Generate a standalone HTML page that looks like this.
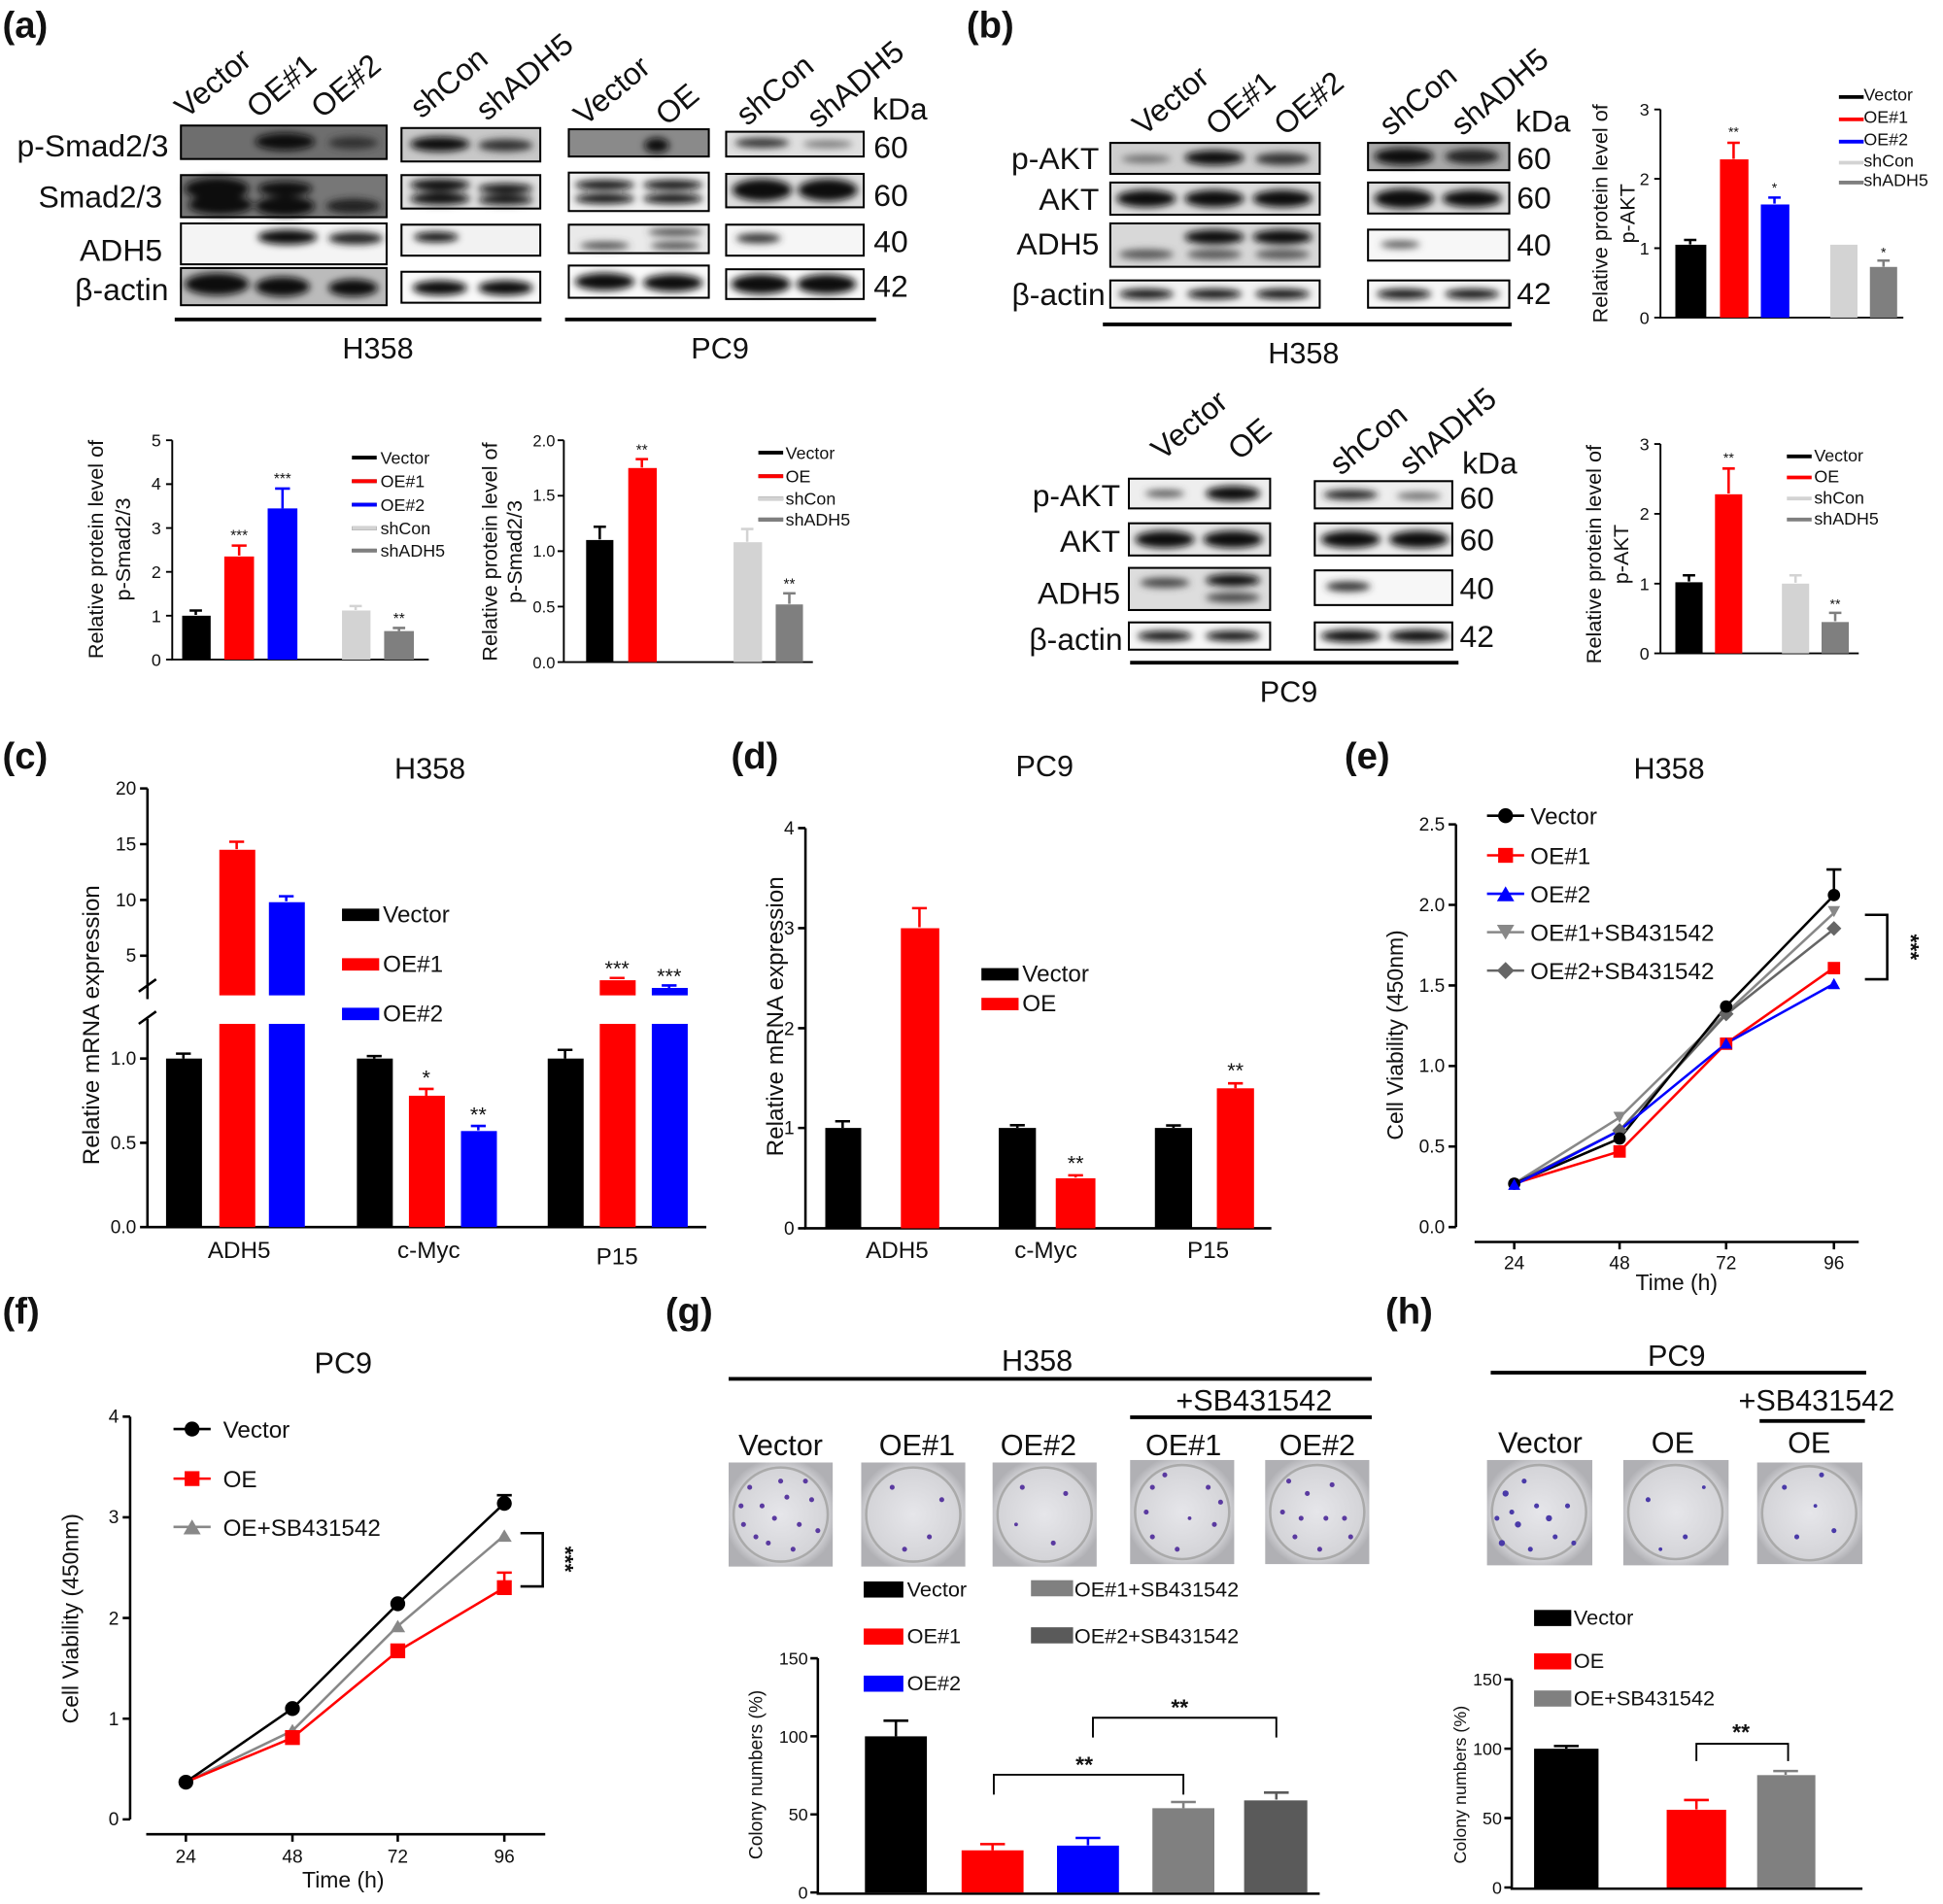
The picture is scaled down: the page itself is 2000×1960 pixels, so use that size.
<!DOCTYPE html>
<html><head><meta charset="utf-8"><style>
html,body{margin:0;padding:0;background:#fff}
svg{display:block}
text{font-family:"Liberation Sans",Arial,sans-serif;fill:#111}
</style></head><body>
<svg width="2000" height="1960" viewBox="0 0 1568 1536" xmlns="http://www.w3.org/2000/svg">
<defs>
<filter id="bl" x="-30%" y="-80%" width="160%" height="260%"><feGaussianBlur stdDeviation="3"/></filter>
<radialGradient id="pl" cx="50%" cy="50%" r="55%"><stop offset="0" stop-color="#e6e6ea"/><stop offset="0.8" stop-color="#d4d4d8"/><stop offset="1" stop-color="#b0b0b4"/></radialGradient>
</defs>
<rect width="1568" height="1536" fill="#fff"/>

<!-- ===== (a) ===== -->
<text x="2" y="30" font-size="30" font-weight="bold">(a)</text>
<g font-size="25">
<text transform="translate(150,96) rotate(-40)">Vector</text>
<text transform="translate(208,96) rotate(-40)">OE#1</text>
<text transform="translate(260,96) rotate(-40)">OE#2</text>
<text transform="translate(340,96) rotate(-40)">shCon</text>
<text transform="translate(393,98) rotate(-40)">shADH5</text>
<text transform="translate(472,102) rotate(-40)">Vector</text>
<text transform="translate(538,102) rotate(-40)">OE</text>
<text transform="translate(603,102) rotate(-40)">shCon</text>
<text transform="translate(660,104) rotate(-40)">shADH5</text>
<text x="704" y="96">kDa</text>
<text x="705" y="127">60</text><text x="705" y="166">60</text><text x="705" y="203">40</text><text x="705" y="239">42</text>
<g text-anchor="end"><text x="136" y="126">p-Smad2/3</text><text x="131" y="167">Smad2/3</text><text x="131" y="210">ADH5</text><text x="136" y="242">β-actin</text></g>
</g>
<g stroke="#000" stroke-width="1.6">
<rect x="146" y="101" width="166" height="27" fill="#6e6e6e"/>
<rect x="146" y="141" width="166" height="34" fill="#777"/>
<rect x="146" y="180" width="166" height="33" fill="#f4f4f4"/>
<rect x="146" y="216" width="166" height="30" fill="#bbb"/>
<rect x="324" y="103" width="112" height="27" fill="#c8c8c8"/>
<rect x="324" y="141" width="112" height="27" fill="#e0e0e0"/>
<rect x="324" y="181" width="112" height="25" fill="#f2f2f2"/>
<rect x="324" y="219" width="112" height="25" fill="#fafafa"/>
<rect x="459" y="104" width="113" height="22" fill="#8a8a8a"/>
<rect x="459" y="139" width="113" height="31" fill="#f0f0f0"/>
<rect x="459" y="181" width="113" height="23" fill="#eaeaea"/>
<rect x="459" y="214" width="113" height="26" fill="#fafafa"/>
<rect x="586" y="106" width="111" height="20" fill="#e0e0e0"/>
<rect x="586" y="140" width="111" height="27" fill="#ddd"/>
<rect x="586" y="181" width="111" height="25" fill="#f6f6f6"/>
<rect x="586" y="217" width="111" height="24" fill="#fafafa"/>
</g>
<g fill="#111" filter="url(#bl)">
<ellipse cx="230" cy="114" rx="24" ry="7"/><ellipse cx="285" cy="115" rx="20" ry="5" fill="#333"/>
<ellipse cx="175" cy="152" rx="26" ry="9"/><ellipse cx="178" cy="165" rx="26" ry="8"/><ellipse cx="230" cy="152" rx="22" ry="6"/><ellipse cx="230" cy="166" rx="24" ry="8"/><ellipse cx="285" cy="166" rx="22" ry="6" fill="#222"/>
<ellipse cx="232" cy="191" rx="24" ry="6"/><ellipse cx="287" cy="192" rx="22" ry="5" fill="#222"/>
<ellipse cx="175" cy="229" rx="26" ry="9"/><ellipse cx="228" cy="231" rx="22" ry="8"/><ellipse cx="285" cy="232" rx="20" ry="7"/>
<ellipse cx="355" cy="116" rx="24" ry="6"/><ellipse cx="408" cy="117" rx="22" ry="5" fill="#333"/>
<ellipse cx="355" cy="149" rx="24" ry="5"/><ellipse cx="355" cy="160" rx="24" ry="5"/><ellipse cx="408" cy="152" rx="22" ry="4"/><ellipse cx="408" cy="161" rx="22" ry="4"/>
<ellipse cx="352" cy="191" rx="18" ry="4"/>
<ellipse cx="355" cy="232" rx="22" ry="6"/><ellipse cx="408" cy="232" rx="22" ry="6"/>
<ellipse cx="530" cy="117" rx="10" ry="6"/>
<ellipse cx="488" cy="149" rx="24" ry="4"/><ellipse cx="488" cy="160" rx="24" ry="4"/><ellipse cx="543" cy="149" rx="24" ry="4"/><ellipse cx="543" cy="160" rx="24" ry="4"/>
<ellipse cx="545" cy="187" rx="22" ry="3" fill="#444"/><ellipse cx="488" cy="198" rx="20" ry="3" fill="#444"/><ellipse cx="545" cy="198" rx="20" ry="3" fill="#444"/>
<ellipse cx="488" cy="227" rx="24" ry="7"/><ellipse cx="543" cy="228" rx="24" ry="7"/>
<ellipse cx="615" cy="115" rx="22" ry="4" fill="#333"/><ellipse cx="668" cy="116" rx="20" ry="3" fill="#777"/>
<ellipse cx="615" cy="153" rx="24" ry="9"/><ellipse cx="668" cy="153" rx="24" ry="9"/>
<ellipse cx="612" cy="192" rx="18" ry="4" fill="#333"/>
<ellipse cx="614" cy="229" rx="24" ry="8"/><ellipse cx="667" cy="229" rx="24" ry="8"/>
</g>
<rect x="141" y="256" width="296" height="3"/><rect x="456" y="256" width="251" height="3"/>
<text x="305" y="289" font-size="24" text-anchor="middle">H358</text>
<text x="581" y="289" font-size="24" text-anchor="middle">PC9</text>

<!-- (a) chart 1 -->
<g font-size="14">
<g stroke="#000" stroke-width="1.5" fill="none"><path d="M139,355 V532 H346"/>
<path d="M134,355h5M134,390.4h5M134,425.8h5M134,461.2h5M134,496.6h5M134,532h5"/></g>
<g text-anchor="end"><text x="130" y="360">5</text><text x="130" y="395">4</text><text x="130" y="431">3</text><text x="130" y="466">2</text><text x="130" y="502">1</text><text x="130" y="537">0</text></g>
<rect x="147" y="496.6" width="23" height="35.4" fill="#000"/>
<rect x="181" y="448.8" width="24" height="83.2" fill="#f00"/>
<rect x="216" y="410" width="24" height="122" fill="#00f"/>
<rect x="276" y="492.4" width="23" height="39.6" fill="#d3d3d3"/>
<rect x="310" y="509" width="24" height="23" fill="#7f7f7f"/>
<g stroke-width="2" fill="none"><path d="M158,496 V492.4 M153,492.4h10" stroke="#000"/><path d="M193,448 V440 M187,440h12" stroke="#f00"/><path d="M228,410 V394 M222,394h12" stroke="#00f"/><path d="M287,492 V488.8 M282,488.8h10" stroke="#d3d3d3"/><path d="M322,509 V506.5 M317,506.5h10" stroke="#7f7f7f"/></g>
<g font-size="12" text-anchor="middle"><text x="193" y="436">***</text><text x="228" y="390">***</text><text x="322" y="503">**</text></g>
<g transform="translate(83,443) rotate(-90)" text-anchor="middle" font-size="17"><text>Relative protein level of</text><text y="22">p-Smad2/3</text></g>
<g font-size="14"><path d="M284,369h20M284,388h20M284,407h20M284,426h20M284,444h20" stroke-width="3" fill="none" stroke="#000"/>
<path d="M284,388h20" stroke="#f00" stroke-width="3"/><path d="M284,407h20" stroke="#00f" stroke-width="3"/><path d="M284,426h20" stroke="#d3d3d3" stroke-width="3"/><path d="M284,444h20" stroke="#7f7f7f" stroke-width="3"/>
<text x="307" y="374">Vector</text><text x="307" y="393">OE#1</text><text x="307" y="412">OE#2</text><text x="307" y="431">shCon</text><text x="307" y="449">shADH5</text></g>
</g>

<!-- (a) chart 2 -->
<g font-size="13">
<g stroke="#000" stroke-width="1.5" fill="none"><path d="M455,355 V534 H656"/>
<path d="M450,355h5M450,399.75h5M450,444.5h5M450,489.25h5M450,534h5"/></g>
<g text-anchor="end"><text x="448" y="360">2.0</text><text x="448" y="404">1.5</text><text x="448" y="449">1.0</text><text x="448" y="494">0.5</text><text x="448" y="539">0.0</text></g>
<rect x="473" y="435.5" width="22" height="98.5" fill="#000"/>
<rect x="507" y="377.4" width="23" height="156.6" fill="#f00"/>
<rect x="592" y="437.3" width="23" height="96.7" fill="#d3d3d3"/>
<rect x="626" y="487.5" width="22" height="46.5" fill="#7f7f7f"/>
<g stroke-width="2" fill="none"><path d="M484,435 V424.8 M479,424.8h10" stroke="#000"/><path d="M518,377 V370.2 M513,370.2h10" stroke="#f00"/><path d="M603,437 V426.6 M598,426.6h10" stroke="#d3d3d3"/><path d="M637,487 V478.5 M632,478.5h10" stroke="#7f7f7f"/></g>
<g font-size="12" text-anchor="middle"><text x="518" y="367">**</text><text x="637" y="475">**</text></g>
<g transform="translate(401,445) rotate(-90)" text-anchor="middle" font-size="17"><text>Relative protein level of</text><text y="20">p-Smad2/3</text></g>
<g font-size="14">
<path d="M612,365h20M612,384h20M612,402h20M612,419h20" stroke="#000" stroke-width="3"/>
<path d="M612,384h20" stroke="#f00" stroke-width="3"/><path d="M612,402h20" stroke="#d3d3d3" stroke-width="3"/><path d="M612,419h20" stroke="#7f7f7f" stroke-width="3"/>
<text x="634" y="370">Vector</text><text x="634" y="389">OE</text><text x="634" y="407">shCon</text><text x="634" y="424">shADH5</text>
</g>
</g>

<!-- ===== (b) ===== -->
<text x="780" y="30" font-size="30" font-weight="bold">(b)</text>
<g font-size="25">
<text transform="translate(923,110) rotate(-40)">Vector</text>
<text transform="translate(982,110) rotate(-40)">OE#1</text>
<text transform="translate(1037,110) rotate(-40)">OE#2</text>
<text transform="translate(1122,110) rotate(-40)">shCon</text>
<text transform="translate(1180,110) rotate(-40)">shADH5</text>
<text x="1223" y="106">kDa</text>
<text x="1224" y="136">60</text><text x="1224" y="168">60</text><text x="1224" y="206">40</text><text x="1224" y="245">42</text>
<g text-anchor="end"><text x="887" y="136">p-AKT</text><text x="887" y="169">AKT</text><text x="887" y="205">ADH5</text><text x="892" y="246">β-actin</text></g>
</g>
<g stroke="#000" stroke-width="1.6">
<rect x="896" y="115" width="169" height="25" fill="#cfcfcf"/>
<rect x="896" y="147" width="169" height="26" fill="#ddd"/>
<rect x="896" y="180" width="169" height="35" fill="#d8d8d8"/>
<rect x="896" y="226" width="169" height="22" fill="#f2f2f2"/>
<rect x="1104" y="115" width="114" height="22" fill="#aaa"/>
<rect x="1104" y="147" width="114" height="25" fill="#ddd"/>
<rect x="1104" y="185" width="114" height="25" fill="#f7f7f7"/>
<rect x="1104" y="226" width="114" height="22" fill="#f7f7f7"/>
<rect x="911" y="386" width="114" height="24" fill="#eee"/>
<rect x="911" y="422" width="114" height="26" fill="#e6e6e6"/>
<rect x="911" y="458" width="114" height="34" fill="#ddd"/>
<rect x="911" y="502" width="114" height="22" fill="#f7f7f7"/>
<rect x="1061" y="388" width="111" height="22" fill="#eee"/>
<rect x="1061" y="422" width="111" height="26" fill="#eee"/>
<rect x="1061" y="460" width="111" height="28" fill="#f7f7f7"/>
<rect x="1061" y="502" width="111" height="22" fill="#f7f7f7"/>
</g>
<g fill="#111" filter="url(#bl)">
<ellipse cx="925" cy="128" rx="20" ry="3" fill="#666"/><ellipse cx="980" cy="127" rx="24" ry="6"/><ellipse cx="1035" cy="128" rx="22" ry="5" fill="#333"/>
<ellipse cx="925" cy="160" rx="24" ry="7"/><ellipse cx="980" cy="160" rx="24" ry="7"/><ellipse cx="1035" cy="160" rx="24" ry="7"/>
<ellipse cx="980" cy="191" rx="24" ry="6"/><ellipse cx="1035" cy="191" rx="24" ry="6"/><ellipse cx="925" cy="205" rx="22" ry="4" fill="#555"/><ellipse cx="980" cy="205" rx="22" ry="4" fill="#555"/><ellipse cx="1035" cy="205" rx="22" ry="4" fill="#555"/>
<ellipse cx="925" cy="237" rx="22" ry="4"/><ellipse cx="980" cy="237" rx="22" ry="4"/><ellipse cx="1035" cy="237" rx="22" ry="4"/>
<ellipse cx="1133" cy="126" rx="24" ry="7"/><ellipse cx="1188" cy="126" rx="22" ry="6" fill="#222"/>
<ellipse cx="1133" cy="160" rx="24" ry="8"/><ellipse cx="1188" cy="160" rx="24" ry="7"/>
<ellipse cx="1130" cy="197" rx="16" ry="3" fill="#555"/>
<ellipse cx="1133" cy="237" rx="22" ry="4"/><ellipse cx="1188" cy="237" rx="22" ry="4"/>
<ellipse cx="940" cy="398" rx="16" ry="3" fill="#555"/><ellipse cx="995" cy="398" rx="22" ry="6"/>
<ellipse cx="940" cy="435" rx="24" ry="7"/><ellipse cx="995" cy="435" rx="24" ry="7"/>
<ellipse cx="940" cy="470" rx="20" ry="4" fill="#444"/><ellipse cx="995" cy="468" rx="22" ry="5"/><ellipse cx="995" cy="482" rx="22" ry="4" fill="#444"/>
<ellipse cx="940" cy="513" rx="22" ry="4"/><ellipse cx="995" cy="513" rx="22" ry="4"/>
<ellipse cx="1090" cy="399" rx="22" ry="4" fill="#222"/><ellipse cx="1145" cy="400" rx="18" ry="3" fill="#666"/>
<ellipse cx="1090" cy="435" rx="24" ry="7"/><ellipse cx="1145" cy="435" rx="24" ry="7"/>
<ellipse cx="1088" cy="473" rx="18" ry="4" fill="#333"/>
<ellipse cx="1090" cy="513" rx="24" ry="5"/><ellipse cx="1145" cy="513" rx="24" ry="5"/>
</g>
<rect x="890" y="260" width="330" height="3"/>
<text x="1052" y="293" font-size="24" text-anchor="middle">H358</text>
<g font-size="25">
<text transform="translate(938,372) rotate(-40)">Vector</text>
<text transform="translate(1000,372) rotate(-40)">OE</text>
<text transform="translate(1082,384) rotate(-40)">shCon</text>
<text transform="translate(1138,384) rotate(-40)">shADH5</text>
<text x="1180" y="382">kDa</text>
<text x="1178" y="410">60</text><text x="1178" y="444">60</text><text x="1178" y="483">40</text><text x="1178" y="522">42</text>
<g text-anchor="end"><text x="904" y="408">p-AKT</text><text x="904" y="445">AKT</text><text x="904" y="487">ADH5</text><text x="906" y="524">β-actin</text></g>
</g>
<rect x="912" y="533" width="265" height="3"/>
<text x="1040" y="566" font-size="24" text-anchor="middle">PC9</text>

<!-- (b) chart top -->
<g font-size="14">
<g stroke="#000" stroke-width="1.5" fill="none"><path d="M1340,88 V256 H1536"/><path d="M1335,88h5M1335,144h5M1335,200h5M1335,256h5"/></g>
<g text-anchor="end"><text x="1331" y="93">3</text><text x="1331" y="149">2</text><text x="1331" y="205">1</text><text x="1331" y="261">0</text></g>
<rect x="1352" y="197.2" width="25" height="58.8" fill="#000"/>
<rect x="1388" y="128.3" width="23" height="127.7" fill="#f00"/>
<rect x="1421" y="164.7" width="23" height="91.3" fill="#00f"/>
<rect x="1477" y="197.2" width="22" height="58.8" fill="#d3d3d3"/>
<rect x="1509" y="215.1" width="22" height="40.9" fill="#7f7f7f"/>
<g stroke-width="2" fill="none"><path d="M1364,197 V193.3 M1359,193.3h10" stroke="#000"/><path d="M1399,128 V114.9 M1394,114.9h10" stroke="#f00"/><path d="M1432,164 V159.1 M1427,159.1h10" stroke="#00f"/><path d="M1520,215 V210 M1515,210h10" stroke="#7f7f7f"/></g>
<g font-size="11" text-anchor="middle"><text x="1399" y="110">**</text><text x="1432" y="155">*</text><text x="1520" y="207">*</text></g>
<g transform="translate(1297,172) rotate(-90)" text-anchor="middle" font-size="17"><text>Relative protein level of</text><text y="22">p-AKT</text></g>
<path d="M1484,78h20" stroke="#000" stroke-width="3"/><path d="M1484,96h20" stroke="#f00" stroke-width="3"/><path d="M1484,114h20" stroke="#00f" stroke-width="3"/><path d="M1484,131h20" stroke="#d3d3d3" stroke-width="3"/><path d="M1484,147h20" stroke="#7f7f7f" stroke-width="3"/>
<text x="1504" y="81">Vector</text><text x="1504" y="99">OE#1</text><text x="1504" y="117">OE#2</text><text x="1504" y="134">shCon</text><text x="1504" y="150">shADH5</text>
</g>

<!-- (b) chart bottom -->
<g font-size="14">
<g stroke="#000" stroke-width="1.5" fill="none"><path d="M1340,358 V527 H1500"/><path d="M1335,358h5M1335,414.4h5M1335,470.7h5M1335,527h5"/></g>
<g text-anchor="end"><text x="1331" y="363">3</text><text x="1331" y="419">2</text><text x="1331" y="476">1</text><text x="1331" y="532">0</text></g>
<rect x="1352" y="469.6" width="22" height="57.4" fill="#000"/>
<rect x="1384" y="398.6" width="22" height="128.4" fill="#f00"/>
<rect x="1438" y="470.7" width="22" height="56.3" fill="#d3d3d3"/>
<rect x="1470" y="501.7" width="22" height="25.3" fill="#7f7f7f"/>
<g stroke-width="2" fill="none"><path d="M1363,469 V464 M1358,464h10" stroke="#000"/><path d="M1395,398 V377.8 M1390,377.8h10" stroke="#f00"/><path d="M1449,470 V464 M1444,464h10" stroke="#d3d3d3"/><path d="M1481,501 V494.3 M1476,494.3h10" stroke="#7f7f7f"/></g>
<g font-size="11" text-anchor="middle"><text x="1395" y="373">**</text><text x="1481" y="491">**</text></g>
<g transform="translate(1292,447) rotate(-90)" text-anchor="middle" font-size="17"><text>Relative protein level of</text><text y="22">p-AKT</text></g>
<path d="M1442,368h20" stroke="#000" stroke-width="3"/><path d="M1442,385h20" stroke="#f00" stroke-width="3"/><path d="M1442,402h20" stroke="#d3d3d3" stroke-width="3"/><path d="M1442,419h20" stroke="#7f7f7f" stroke-width="3"/>
<text x="1464" y="372">Vector</text><text x="1464" y="389">OE</text><text x="1464" y="406">shCon</text><text x="1464" y="423">shADH5</text>
</g>

<!-- ===== (c) ===== -->
<text x="2" y="620" font-size="30" font-weight="bold">(c)</text>
<text x="347" y="628" font-size="24" text-anchor="middle">H358</text>
<g font-size="15">
<g stroke="#000" stroke-width="2" fill="none">
<path d="M119,636 V806"/><path d="M119,822 V990 H570"/>
<path d="M112,800 l14,-10 M112,826 l14,-10" />
<path d="M113,636h6M113,681h6M113,726h6M113,771h6M113,854h6M113,922h6M113,990h6"/></g>
<g text-anchor="end"><text x="110" y="641">20</text><text x="110" y="686">15</text><text x="110" y="731">10</text><text x="110" y="776">5</text><text x="110" y="859">1.0</text><text x="110" y="927">0.5</text><text x="110" y="995">0.0</text></g>
<rect x="134" y="854" width="29" height="136" fill="#000"/>
<rect x="177" y="826" width="29" height="164" fill="#f00"/><rect x="177" y="685.5" width="29" height="117.5" fill="#f00"/>
<rect x="217" y="826" width="29" height="164" fill="#00f"/><rect x="217" y="727.8" width="29" height="75.2" fill="#00f"/>
<rect x="288" y="854" width="29" height="136" fill="#000"/>
<rect x="330" y="884" width="29" height="106" fill="#f00"/>
<rect x="372" y="912.5" width="29" height="77.5" fill="#00f"/>
<rect x="442" y="854" width="29" height="136" fill="#000"/>
<rect x="484" y="826" width="29" height="164" fill="#f00"/><rect x="484" y="790.8" width="29" height="12.2" fill="#f00"/>
<rect x="526" y="826" width="29" height="164" fill="#00f"/><rect x="526" y="797" width="29" height="6" fill="#00f"/>
<g stroke-width="2" fill="none"><path d="M148,854 V850 M142,850h12" stroke="#000"/><path d="M191,685 V679 M185,679h12" stroke="#f00"/><path d="M231,727 V723 M225,723h12" stroke="#00f"/>
<path d="M302,854 V852 M296,852h12" stroke="#000"/><path d="M344,884 V878.5 M338,878.5h12" stroke="#f00"/><path d="M386,912 V908.4 M380,908.4h12" stroke="#00f"/>
<path d="M456,854 V847 M450,847h12" stroke="#000"/><path d="M498,790 V789 M492,789h12" stroke="#f00"/><path d="M540,797 V795 M534,795h12" stroke="#00f"/></g>
<g font-size="17" text-anchor="middle"><text x="344" y="875">*</text><text x="386" y="905">**</text><text x="498" y="787">***</text><text x="540" y="793">***</text></g>
<g font-size="19" text-anchor="middle"><text x="193" y="1015">ADH5</text><text x="346" y="1015">c-Myc</text><text x="498" y="1020">P15</text></g>
<text transform="translate(80,827) rotate(-90)" font-size="19" text-anchor="middle">Relative mRNA expression</text>
<rect x="276" y="733" width="30" height="10" fill="#000"/><rect x="276" y="773" width="30" height="10" fill="#f00"/><rect x="276" y="813" width="30" height="10" fill="#00f"/>
<g font-size="19"><text x="309" y="744">Vector</text><text x="309" y="784">OE#1</text><text x="309" y="824">OE#2</text></g>
</g>

<!-- ===== (d) ===== -->
<text x="590" y="620" font-size="30" font-weight="bold">(d)</text>
<text x="843" y="626" font-size="24" text-anchor="middle">PC9</text>
<g font-size="15">
<g stroke="#000" stroke-width="2" fill="none"><path d="M650,668 V991 H1026"/><path d="M644,668h6M644,748.75h6M644,829.5h6M644,910h6M644,991h6"/></g>
<g text-anchor="end"><text x="641" y="673">4</text><text x="641" y="754">3</text><text x="641" y="835">2</text><text x="641" y="915">1</text><text x="641" y="996">0</text></g>
<rect x="666" y="910" width="29" height="81" fill="#000"/>
<rect x="727" y="748.8" width="31" height="242.2" fill="#f00"/>
<rect x="806" y="910" width="30" height="81" fill="#000"/>
<rect x="852" y="950.6" width="32" height="40.4" fill="#f00"/>
<rect x="932" y="910" width="30" height="81" fill="#000"/>
<rect x="982" y="878" width="30" height="113" fill="#f00"/>
<g stroke-width="2" fill="none"><path d="M680,910 V904.6 M674,904.6h12" stroke="#000"/><path d="M742,748 V732.6 M736,732.6h12" stroke="#f00"/><path d="M821,910 V907.8 M815,907.8h12" stroke="#000"/><path d="M868,950 V948.2 M862,948.2h12" stroke="#f00"/><path d="M947,910 V908 M941,908h12" stroke="#000"/><path d="M997,878 V874 M991,874h12" stroke="#f00"/></g>
<g font-size="17" text-anchor="middle"><text x="868" y="944">**</text><text x="997" y="869">**</text></g>
<g font-size="19" text-anchor="middle"><text x="724" y="1015">ADH5</text><text x="844" y="1015">c-Myc</text><text x="975" y="1015">P15</text></g>
<text transform="translate(632,820) rotate(-90)" font-size="19" text-anchor="middle">Relative mRNA expression</text>
<rect x="792" y="781" width="30" height="10" fill="#000"/><rect x="792" y="805" width="30" height="10" fill="#f00"/>
<g font-size="19"><text x="825" y="792">Vector</text><text x="825" y="816">OE</text></g>
</g>

<!-- ===== (e) ===== -->
<text x="1085" y="620" font-size="30" font-weight="bold">(e)</text>
<text x="1347" y="628" font-size="24" text-anchor="middle">H358</text>
<g font-size="15">
<g stroke="#000" stroke-width="2" fill="none"><path d="M1175,665 V990"/><path d="M1190,1002 H1500"/>
<path d="M1169,665h6M1169,730h6M1169,795h6M1169,860h6M1169,925h6M1169,990h6"/>
<path d="M1222,1002v6M1307,1002v6M1393,1002v6M1480,1002v6"/></g>
<g text-anchor="end"><text x="1166" y="670">2.5</text><text x="1166" y="735">2.0</text><text x="1166" y="800">1.5</text><text x="1166" y="865">1.0</text><text x="1166" y="930">0.5</text><text x="1166" y="995">0.0</text></g>
<g text-anchor="middle"><text x="1222" y="1024">24</text><text x="1307" y="1024">48</text><text x="1393" y="1024">72</text><text x="1480" y="1024">96</text></g>
<text x="1353" y="1041" font-size="18" text-anchor="middle">Time (h)</text>
<text transform="translate(1132,835) rotate(-90)" font-size="18" text-anchor="middle">Cell Viability (450nm)</text>
<polyline points="1222,954.9 1307,901.6 1393,817.1 1480,736.5" fill="none" stroke="#888" stroke-width="2"/>
<polyline points="1222,954.9 1307,912 1393,818.4 1480,749.5" fill="none" stroke="#666" stroke-width="2"/>
<polyline points="1222,954.9 1307,918.5 1393,811.9 1480,722.2" fill="none" stroke="#000" stroke-width="2"/>
<polyline points="1222,954.9 1307,928.9 1393,841.8 1480,780.7" fill="none" stroke="#f00" stroke-width="2"/>
<polyline points="1222,956.2 1307,912 1393,841.8 1480,793.7" fill="none" stroke="#00f" stroke-width="2"/>
<path d="M1480,722 V701.4 M1474,701.4h12" stroke="#000" stroke-width="2"/>
<g fill="#888"><path d="M1302,897l5,9l5,-9z"/><path d="M1475,731l5,9l5,-9z"/></g>
<g fill="#666"><path d="M1307,906l6,6l-6,6l-6,-6z M1480,743l6,6l-6,6l-6,-6z M1393,812l6,6l-6,6l-6,-6z"/></g>
<g fill="#000"><circle cx="1222" cy="955" r="5"/><circle cx="1307" cy="918.5" r="5"/><circle cx="1393" cy="812" r="5"/><circle cx="1480" cy="722" r="5"/></g>
<g fill="#f00"><rect x="1302" y="924" width="10" height="10"/><rect x="1388" y="837" width="10" height="10"/><rect x="1475" y="776" width="10" height="10"/></g>
<g fill="#00f"><path d="M1217,960l5,-9l5,9z M1475,798l5,-9l5,9z M1388,846l5,-9l5,9z"/></g>
<path d="M1200,658h30" stroke="#000" stroke-width="2"/><circle cx="1215" cy="658" r="6"/>
<path d="M1200,690h30" stroke="#f00" stroke-width="2"/><rect x="1209" y="684" width="12" height="12" fill="#f00"/>
<path d="M1200,721h30" stroke="#00f" stroke-width="2"/><path d="M1208,727l7,-12l7,12z" fill="#00f"/>
<path d="M1200,752h30" stroke="#888" stroke-width="2"/><path d="M1208,746l7,12l7,-12z" fill="#888"/>
<path d="M1200,783h30" stroke="#666" stroke-width="2"/><path d="M1215,776l7,7l-7,7l-7,-7z" fill="#666"/>
<g font-size="19"><text x="1235" y="665">Vector</text><text x="1235" y="697">OE#1</text><text x="1235" y="728">OE#2</text><text x="1235" y="759">OE#1+SB431542</text><text x="1235" y="790">OE#2+SB431542</text></g>
<path d="M1505,738h18v52h-18" fill="none" stroke="#000" stroke-width="2"/>
<text transform="translate(1536,764) rotate(90)" font-size="18" text-anchor="middle" font-weight="bold">***</text>
</g>

<!-- ===== (f) ===== -->
<text x="2" y="1068" font-size="30" font-weight="bold">(f)</text>
<text x="277" y="1108" font-size="24" text-anchor="middle">PC9</text>
<g font-size="15">
<g stroke="#000" stroke-width="2" fill="none"><path d="M105,1143 V1468"/><path d="M118,1480 H440"/>
<path d="M99,1143h6M99,1224.25h6M99,1305.5h6M99,1386.75h6M99,1468h6"/>
<path d="M150,1480v6M236,1480v6M321,1480v6M407,1480v6"/></g>
<g text-anchor="end"><text x="96" y="1148">4</text><text x="96" y="1229">3</text><text x="96" y="1311">2</text><text x="96" y="1392">1</text><text x="96" y="1473">0</text></g>
<g text-anchor="middle"><text x="150" y="1503">24</text><text x="236" y="1503">48</text><text x="321" y="1503">72</text><text x="407" y="1503">96</text></g>
<text x="277" y="1523" font-size="18" text-anchor="middle">Time (h)</text>
<text transform="translate(63,1306) rotate(-90)" font-size="18" text-anchor="middle">Cell Viability (450nm)</text>
<polyline points="150,1437.9 236,1396.5 321,1312 407,1238.9" fill="none" stroke="#888" stroke-width="2"/>
<polyline points="150,1437.9 236,1378.6 321,1294.1 407,1212.9" fill="none" stroke="#000" stroke-width="2"/>
<polyline points="150,1437.9 236,1402.2 321,1332.3 407,1281.1" fill="none" stroke="#f00" stroke-width="2"/>
<path d="M407,1212 V1206.4 M401,1206.4h12" stroke="#000" stroke-width="2"/><path d="M407,1281 V1268.9 M401,1268.9h12" stroke="#f00" stroke-width="2"/>
<g fill="#888"><path d="M230,1401l6,-10l6,10z M315,1317l6,-10l6,10z M401,1244l6,-10l6,10z"/></g>
<g fill="#000"><circle cx="150" cy="1438" r="6"/><circle cx="236" cy="1378.6" r="6"/><circle cx="321" cy="1294" r="6"/><circle cx="407" cy="1213" r="6"/></g>
<g fill="#f00"><rect x="230" y="1396" width="12" height="12"/><rect x="315" y="1326" width="12" height="12"/><rect x="401" y="1275" width="12" height="12"/></g>
<path d="M140,1153h30" stroke="#000" stroke-width="2"/><circle cx="155" cy="1153" r="6"/>
<path d="M140,1193h30" stroke="#f00" stroke-width="2"/><rect x="149" y="1187" width="12" height="12" fill="#f00"/>
<path d="M140,1232h30" stroke="#888" stroke-width="2"/><path d="M148,1238l7,-12l7,12z" fill="#888"/>
<g font-size="19"><text x="180" y="1160">Vector</text><text x="180" y="1200">OE</text><text x="180" y="1239">OE+SB431542</text></g>
<path d="M420,1237h18v43h-18" fill="none" stroke="#000" stroke-width="2"/>
<text transform="translate(450,1258) rotate(90)" font-size="18" text-anchor="middle" font-weight="bold">***</text>
</g>

<!-- ===== (g) ===== -->
<text x="537" y="1068" font-size="30" font-weight="bold">(g)</text>
<text x="837" y="1106" font-size="24" text-anchor="middle">H358</text>
<rect x="588" y="1111" width="519" height="3"/>
<text x="1012" y="1138" font-size="24" text-anchor="middle">+SB431542</text>
<rect x="912" y="1142" width="195" height="3"/>
<g font-size="24" text-anchor="middle"><text x="630" y="1174">Vector</text><text x="740" y="1174">OE#1</text><text x="838" y="1174">OE#2</text><text x="955" y="1174">OE#1</text><text x="1063" y="1174">OE#2</text></g>
<g>
<rect x="588" y="1180" width="84" height="84" fill="url(#pl)"/><circle cx="630" cy="1222" r="38" fill="none" stroke="#aaa" stroke-width="2"/>
<rect x="695" y="1180" width="84" height="84" fill="url(#pl)"/><circle cx="737" cy="1222" r="38" fill="none" stroke="#aaa" stroke-width="2"/>
<rect x="801" y="1180" width="84" height="84" fill="url(#pl)"/><circle cx="843" cy="1222" r="38" fill="none" stroke="#aaa" stroke-width="2"/>
<rect x="912" y="1178" width="84" height="84" fill="url(#pl)"/><circle cx="954" cy="1220" r="38" fill="none" stroke="#aaa" stroke-width="2"/>
<rect x="1021" y="1178" width="84" height="84" fill="url(#pl)"/><circle cx="1063" cy="1220" r="38" fill="none" stroke="#aaa" stroke-width="2"/>
</g>
<g fill="#5a3aa0">
<circle cx="605" cy="1200" r="2"/><circle cx="615" cy="1215" r="2"/><circle cx="630" cy="1195" r="2"/><circle cx="645" cy="1230" r="2"/><circle cx="620" cy="1245" r="2"/><circle cx="655" cy="1210" r="2"/><circle cx="600" cy="1230" r="2"/><circle cx="640" cy="1250" r="2"/><circle cx="625" cy="1225" r="2"/><circle cx="650" cy="1195" r="2"/><circle cx="610" cy="1240" r="2"/><circle cx="635" cy="1208" r="2"/><circle cx="660" cy="1235" r="2"/><circle cx="598" cy="1215" r="2"/>
<circle cx="720" cy="1200" r="2"/><circle cx="750" cy="1240" r="2"/><circle cx="760" cy="1210" r="2"/><circle cx="730" cy="1250" r="2"/>
<circle cx="825" cy="1200" r="2"/><circle cx="860" cy="1205" r="2"/><circle cx="850" cy="1245" r="2"/><circle cx="820" cy="1230" r="1.5"/>
<circle cx="930" cy="1200" r="2"/><circle cx="940" cy="1190" r="2"/><circle cx="975" cy="1200" r="2"/><circle cx="980" cy="1230" r="2"/><circle cx="930" cy="1240" r="2"/><circle cx="950" cy="1250" r="2"/><circle cx="925" cy="1220" r="2"/><circle cx="960" cy="1225" r="1.5"/><circle cx="985" cy="1212" r="2"/>
<circle cx="1040" cy="1195" r="2"/><circle cx="1055" cy="1205" r="2"/><circle cx="1075" cy="1198" r="2"/><circle cx="1085" cy="1225" r="2"/><circle cx="1045" cy="1240" r="2"/><circle cx="1065" cy="1250" r="2"/><circle cx="1035" cy="1220" r="2"/><circle cx="1070" cy="1225" r="2"/><circle cx="1090" cy="1240" r="2"/><circle cx="1050" cy="1225" r="2"/>
</g>
<g font-size="17">
<rect x="697" y="1276" width="32" height="13" fill="#000"/><text x="732" y="1288">Vector</text>
<rect x="697" y="1314" width="32" height="13" fill="#f00"/><text x="732" y="1326">OE#1</text>
<rect x="697" y="1352" width="32" height="13" fill="#00f"/><text x="732" y="1364">OE#2</text>
<rect x="832" y="1275" width="34" height="13" fill="#808080"/><text x="867" y="1288">OE#1+SB431542</text>
<rect x="832" y="1313" width="34" height="13" fill="#5a5a5a"/><text x="867" y="1326">OE#2+SB431542</text>
</g>
<g font-size="14">
<g stroke="#000" stroke-width="2" fill="none"><path d="M660,1338 V1528 H1065"/><path d="M654,1338h6M654,1401h6M654,1464h6M654,1527h6"/></g>
<g text-anchor="end"><text x="652" y="1343">150</text><text x="652" y="1406">100</text><text x="652" y="1469">50</text><text x="652" y="1532">0</text></g>
<rect x="698" y="1401" width="50" height="126" fill="#000"/>
<rect x="776" y="1493" width="50" height="34" fill="#f00"/>
<rect x="853" y="1489.2" width="50" height="37.8" fill="#00f"/>
<rect x="930" y="1459" width="50" height="68" fill="#808080"/>
<rect x="1004" y="1452.7" width="51" height="74.3" fill="#5a5a5a"/>
<g stroke-width="2" fill="none"><path d="M723,1401 V1388.4 M713,1388.4h20" stroke="#000"/><path d="M801,1493 V1488 M791,1488h20" stroke="#f00"/><path d="M878,1489 V1483 M868,1483h20" stroke="#00f"/><path d="M955,1459 V1454 M945,1454h20" stroke="#808080"/><path d="M1030,1452 V1446.4 M1020,1446.4h20" stroke="#5a5a5a"/></g>
<path d="M802,1448 V1432 H955 V1448 M882,1402 V1386 H1030 V1402" fill="none" stroke="#000" stroke-width="1.5"/>
<g font-size="18" text-anchor="middle" font-weight="bold"><text x="875" y="1430">**</text><text x="952" y="1384">**</text></g>
<text transform="translate(615,1432) rotate(-90)" font-size="15" text-anchor="middle">Colony numbers (%)</text>
</g>

<!-- ===== (h) ===== -->
<text x="1118" y="1068" font-size="30" font-weight="bold">(h)</text>
<text x="1353" y="1102" font-size="24" text-anchor="middle">PC9</text>
<rect x="1203" y="1106" width="303" height="3"/>
<text x="1466" y="1138" font-size="24" text-anchor="middle">+SB431542</text>
<rect x="1420" y="1145" width="85" height="3"/>
<g font-size="24" text-anchor="middle"><text x="1243" y="1172">Vector</text><text x="1350" y="1172">OE</text><text x="1460" y="1172">OE</text></g>
<rect x="1200" y="1178" width="85" height="85" fill="url(#pl)"/><circle cx="1242" cy="1220" r="38" fill="none" stroke="#aaa" stroke-width="2"/>
<rect x="1310" y="1178" width="85" height="85" fill="url(#pl)"/><circle cx="1352" cy="1220" r="38" fill="none" stroke="#aaa" stroke-width="2"/>
<rect x="1418" y="1180" width="85" height="82" fill="url(#pl)"/><circle cx="1460" cy="1221" r="38" fill="none" stroke="#aaa" stroke-width="2"/>
<g fill="#4a3aa8">
<circle cx="1215" cy="1205" r="2.5"/><circle cx="1225" cy="1230" r="2.5"/><circle cx="1240" cy="1215" r="2"/><circle cx="1212" cy="1245" r="2.5"/><circle cx="1235" cy="1250" r="2"/><circle cx="1255" cy="1240" r="2"/><circle cx="1265" cy="1215" r="2"/><circle cx="1230" cy="1195" r="2"/><circle cx="1250" cy="1225" r="2.5"/><circle cx="1220" cy="1220" r="2"/><circle cx="1270" cy="1245" r="2"/><circle cx="1208" cy="1225" r="2"/>
<circle cx="1330" cy="1210" r="2"/><circle cx="1360" cy="1240" r="2"/><circle cx="1375" cy="1200" r="1.5"/><circle cx="1340" cy="1250" r="1.5"/>
<circle cx="1440" cy="1200" r="2"/><circle cx="1470" cy="1190" r="2"/><circle cx="1450" cy="1240" r="2"/><circle cx="1480" cy="1235" r="2"/><circle cx="1465" cy="1215" r="1.5"/>
</g>
<g font-size="17">
<rect x="1238" y="1299" width="30" height="13" fill="#000"/><text x="1270" y="1311">Vector</text>
<rect x="1238" y="1334" width="30" height="13" fill="#f00"/><text x="1270" y="1346">OE</text>
<rect x="1238" y="1364" width="30" height="13" fill="#808080"/><text x="1270" y="1376">OE+SB431542</text>
</g>
<g font-size="14">
<g stroke="#000" stroke-width="2" fill="none"><path d="M1220,1355 V1524 H1503"/><path d="M1214,1355h6M1214,1411h6M1214,1467h6M1214,1523h6"/></g>
<g text-anchor="end"><text x="1212" y="1360">150</text><text x="1212" y="1416">100</text><text x="1212" y="1472">50</text><text x="1212" y="1528">0</text></g>
<rect x="1238" y="1411" width="52" height="112" fill="#000"/>
<rect x="1345" y="1460.3" width="48" height="62.7" fill="#f00"/>
<rect x="1418" y="1432.3" width="47" height="90.7" fill="#808080"/>
<g stroke-width="2" fill="none"><path d="M1264,1411 V1408.8 M1254,1408.8h20" stroke="#000"/><path d="M1369,1460 V1452.4 M1359,1452.4h20" stroke="#f00"/><path d="M1441,1432 V1429 M1431,1429h20" stroke="#808080"/></g>
<path d="M1369,1421 V1407 H1443 V1421" fill="none" stroke="#000" stroke-width="1.5"/>
<text x="1405" y="1404" font-size="18" text-anchor="middle" font-weight="bold">**</text>
<text transform="translate(1183,1440) rotate(-90)" font-size="14" text-anchor="middle">Colony numbers (%)</text>
</g>
</svg>
</body></html>
